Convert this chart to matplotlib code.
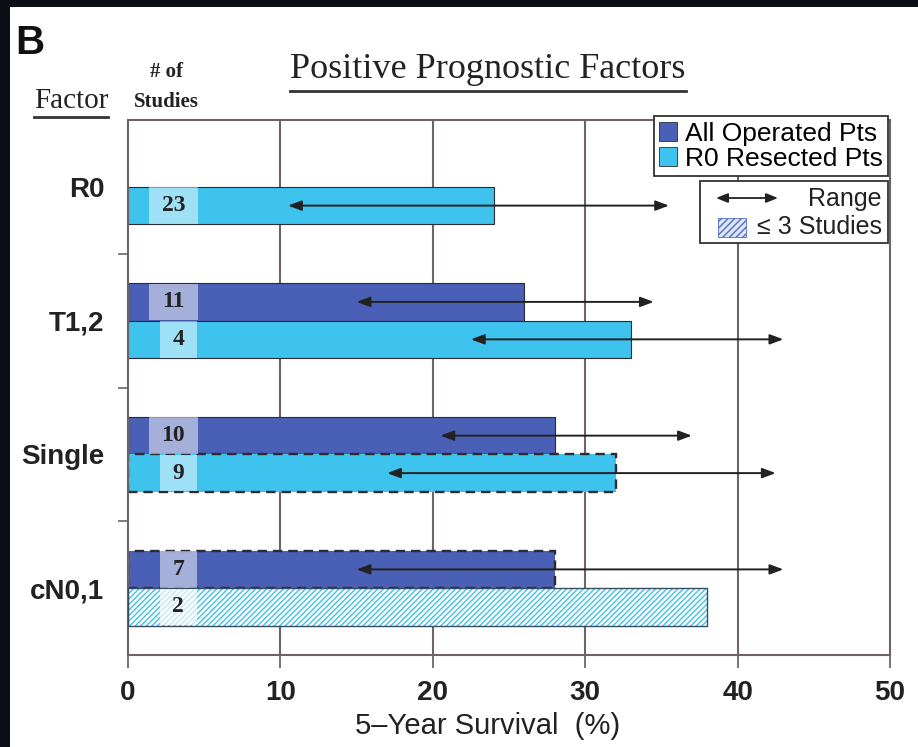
import numpy as np
import matplotlib
matplotlib.use("Agg")
import matplotlib.pyplot as plt
from matplotlib.patches import Rectangle
from matplotlib.lines import Line2D
from matplotlib import font_manager as fm

# ---------------- data ----------------
factors = ['R0', 'T1,2', 'Single', 'cN0,1']
all_op = [np.nan, 26, 28, 28]
r0_res = [24, 33, 32, 38]
all_n = [None, 11, 10, 7]
r0_n = [23, 4, 9, 2]
all_lo = [np.nan, 15, 20.5, 15]
all_hi = [np.nan, 34.5, 37, 43]
r0_lo = [10.5, 22.5, 17, np.nan]
r0_hi = [35.5, 43, 42.5, np.nan]
all_dashed = [False, False, False, True]
r0_dashed = [False, False, True, False]
r0_hatched = [False, False, False, True]
xticks = [0, 10, 20, 30, 40, 50]

DARK = '#4a5fb6'
CYAN = '#3ec2ee'
EDGE = '#2b2b33'
GRID = '#6e6464'
TXT = '#222222'

avail = {f.name for f in fm.fontManager.ttflist}
SANS = 'Liberation Sans' if 'Liberation Sans' in avail else 'DejaVu Sans'
SERIF = 'Liberation Serif' if 'Liberation Serif' in avail else 'DejaVu Serif'

W, H = 918, 747
fig = plt.figure(figsize=(W / 100, H / 100), dpi=100)
fig.patch.set_facecolor('#0b0e15')
fig.add_artist(Rectangle((10 / W, 0), 1, 1 - 7 / H, transform=fig.transFigure,
                         facecolor='white', edgecolor='none', zorder=0))

ax = fig.add_axes([128 / W, 1 - 655 / H, (890 - 128) / W, (655 - 120) / H])
ax.set_facecolor('white')
ax.set_xlim(0, 50)
ax.set_ylim(0, 4)

for x in xticks[1:-1]:
    ax.axvline(x, color=GRID, lw=1.5, zorder=1)

bh = 0.28
n = len(factors)
for i in range(n):
    c = 3.5 - i
    ya = c + bh / 2
    yr = c - bh / 2
    # all operated
    if not np.isnan(all_op[i]):
        ax.barh(ya, all_op[i], height=bh, color=DARK, edgecolor=EDGE,
                lw=1.7 if all_dashed[i] else 0.8,
                linestyle=(0, (4, 2.5)) if all_dashed[i] else '-', zorder=2)
    # R0 resected
    if r0_hatched[i]:
        ax.barh(yr, r0_res[i], height=bh, color='white', edgecolor=CYAN,
                hatch='//////', lw=0, zorder=2)
        ax.barh(yr, r0_res[i], height=bh, fill=False, edgecolor='#3a4a60',
                lw=1.0, zorder=3)
    else:
        ax.barh(yr, r0_res[i], height=bh, color=CYAN, edgecolor=EDGE,
                lw=1.7 if r0_dashed[i] else 0.8,
                linestyle=(0, (4, 2.5)) if r0_dashed[i] else '-', zorder=2)
    # number boxes
    for val, nn, yy, base in [(all_op[i], all_n[i], ya, DARK),
                              (r0_res[i], r0_n[i], yr, CYAN)]:
        if nn is None or np.isnan(val):
            continue
        two = len(str(nn)) > 1
        x0, x1 = (1.35, 4.6) if two else (2.1, 4.5)
        ax.barh(yy, x1 - x0, left=x0, height=bh * 0.97, color='white',
                alpha=0.5 if not r0_hatched[i] or yy == ya else 0.65,
                edgecolor='none', zorder=3.5)
        ax.text((x0 + x1) / 2, yy, str(nn), ha='center', va='center',
                family=SERIF, fontweight='bold', fontsize=17, color=TXT, zorder=4)
    # range arrows
    for lo, hi, yy in [(all_lo[i], all_hi[i], ya), (r0_lo[i], r0_hi[i], yr)]:
        if np.isnan(lo):
            continue
        ax.annotate('', xy=(hi, yy), xytext=(lo, yy),
                    arrowprops=dict(arrowstyle='<|-|>,head_length=0.8,head_width=0.3',
                                    lw=1.4, color='#222222', shrinkA=0, shrinkB=0),
                    zorder=5)

# axes styling
for s in ax.spines.values():
    s.set_color(GRID)
    s.set_linewidth(1.5)
ax.set_xticks(xticks)
ax.set_xticklabels([str(v) for v in xticks], family=SANS, fontweight='bold',
                   fontsize=20, color=TXT)
ax.tick_params(axis='x', length=9, width=1.3, color=GRID, pad=9)
ax.set_yticks([3.5 - i for i in range(n)])
ax.set_yticklabels(factors, family=SANS, fontweight='bold', fontsize=20, color=TXT)
ax.tick_params(axis='y', length=0, pad=17)
ax.set_yticks([1, 2, 3], minor=True)
ax.tick_params(axis='y', which='minor', length=7, width=1.2, color=GRID)

# legend 1
h1 = [Rectangle((0, 0), 1, 1, facecolor=DARK, edgecolor=EDGE, lw=0.6),
      Rectangle((0, 0), 1, 1, facecolor=CYAN, edgecolor=EDGE, lw=0.6)]
leg = ax.legend(h1, ['All Operated Pts', 'R0 Resected Pts'], loc='upper right',
                bbox_to_anchor=(0.998, 1.007), borderaxespad=0, fancybox=False,
                edgecolor='#333333', framealpha=1, handlelength=0.7,
                handleheight=0.7, handletextpad=0.3, borderpad=0.2,
                labelspacing=0.05, prop=dict(family=SANS, size=19))
leg.get_frame().set_linewidth(1.3)
leg.set_zorder(10)

# legend 2 (manual, axes coordinates)
def ax_x(px):
    return (px - 128) / 762

def ax_y(py):
    return (655 - py) / 535

box = Rectangle((ax_x(700), ax_y(243)), ax_x(888) - ax_x(700), ax_y(181) - ax_y(243),
                transform=ax.transAxes, facecolor='white', edgecolor='#333333',
                lw=1.3, zorder=10)
ax.add_patch(box)
ax.annotate('', xy=(ax_x(778), ax_y(198)), xytext=(ax_x(716), ax_y(198)),
            xycoords='axes fraction', textcoords='axes fraction',
            arrowprops=dict(arrowstyle='<|-|>,head_length=0.7,head_width=0.28',
                            lw=1.3, color='#222222', shrinkA=0, shrinkB=0),
            zorder=11)
ax.text(ax_x(882), ax_y(199), 'Range', transform=ax.transAxes, ha='right',
        va='center', family=SANS, fontsize=18, color=TXT, zorder=11)
ax.add_patch(Rectangle((ax_x(718), ax_y(237)), ax_x(746) - ax_x(718), ax_y(218) - ax_y(237),
                       transform=ax.transAxes, facecolor='#dde6f8', edgecolor='#5070c0',
                       hatch='/////', lw=0.6, zorder=11))
ax.text(ax_x(882), ax_y(227), '≤ 3 Studies', transform=ax.transAxes, ha='right',
        va='center', family=SANS, fontsize=18, color=TXT, zorder=11)

# figure texts
fig.text(15 / W, 1 - 43 / H, 'B', family=SANS, fontweight='bold', fontsize=29,
         ha='left', va='center', color='#111111')
title = fig.text(488 / W, 1 - 69 / H, 'Positive Prognostic Factors', family=SERIF,
                 fontsize=26, ha='center', va='center', color=TXT)
fac = fig.text(71 / W, 1 - 101 / H, 'Factor', family=SERIF, fontsize=21,
               ha='center', va='center', color=TXT)
fig.text(166 / W, 1 - 72 / H, '# of', family=SERIF, fontweight='bold', fontsize=15,
         ha='center', va='center', color=TXT)
fig.text(166 / W, 1 - 102 / H, 'Studies', family=SERIF, fontweight='bold', fontsize=15,
         ha='center', va='center', color=TXT)
fig.text(488 / W, 1 - 726 / H, '5–Year Survival  (%)', family=SANS, fontsize=21,
         ha='center', va='center', color=TXT)

fig.canvas.draw()
r = fig.canvas.get_renderer()
for t, yoff in [(title, 5), (fac, 3)]:
    bb = t.get_window_extent(r)
    yy = bb.y0 - yoff
    fig.add_artist(Line2D([bb.x0 / W, bb.x1 / W], [yy / H, yy / H],
                          transform=fig.transFigure, color='#333333', lw=2))

fig.savefig('out.png', dpi=100, facecolor=fig.get_facecolor())
